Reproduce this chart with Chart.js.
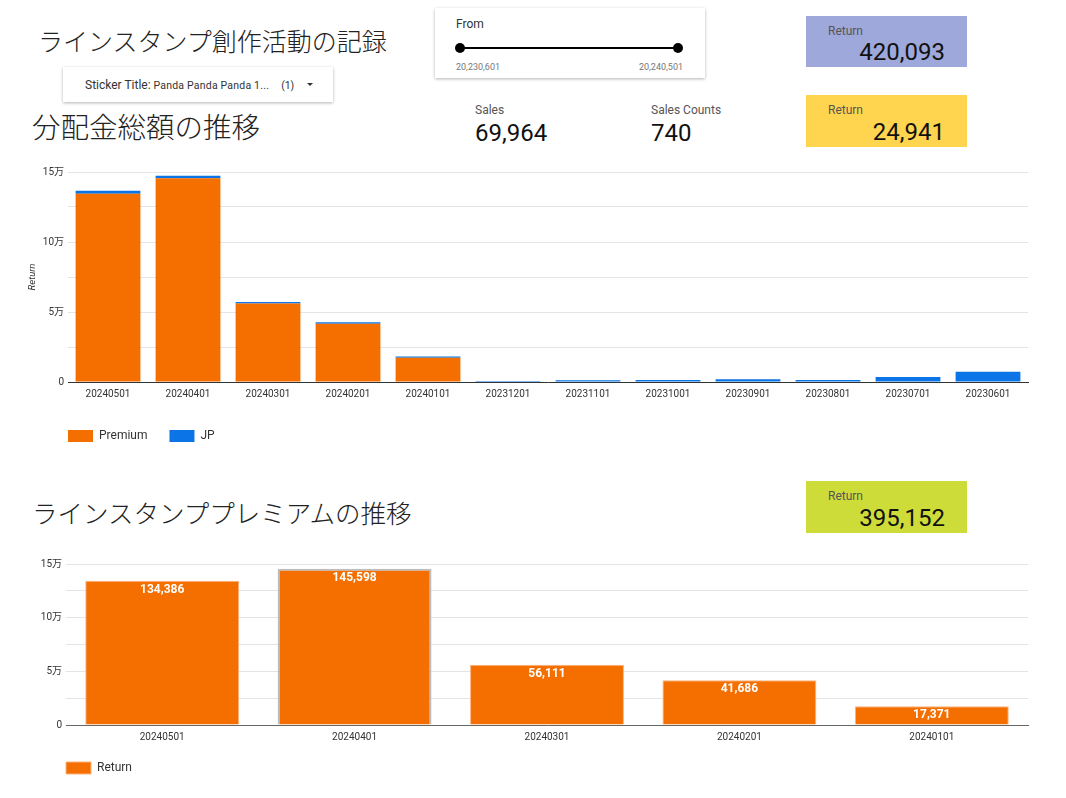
<!DOCTYPE html>
<html lang="ja">
<head>
<meta charset="utf-8">
<title>ラインスタンプ創作活動の記録</title>
<script src="https://cdn.jsdelivr.net/npm/chart.js@4.4.1/dist/chart.umd.min.js"></script>
<style>
  html, body { margin: 0; padding: 0; background: #fff; }
  body { width: 1066px; height: 798px; position: relative; overflow: hidden;
         font-family: Roboto, "Noto Sans CJK JP", sans-serif; color: #222; }
  .abs { position: absolute; }
  .title { font-family: "Noto Sans CJK JP", sans-serif; font-weight: 300; line-height: 1; color: #222; white-space: nowrap; }
  .card { background: #fff; box-shadow: 0 1px 3px rgba(0,0,0,0.3); }
  .kpi-label { font-size: 12px; color: #555; line-height: 1; }
  .kpi-value { font-size: 24px; color: #111; line-height: 1; }
  .box .kpi-value { position: absolute; right: 22px; bottom: 3px; }
  .box .kpi-label { position: absolute; left: 22px; top: 9px; }
  .chart { position: absolute; }
</style>
</head>
<body>

<div class="abs title" style="left:38px; top:28px; font-size:25px;">ラインスタンプ創作活動の記録</div>

<!-- フィルタ -->
<div class="abs card" style="left:63px; top:67px; width:270px; height:35px;">
  <div class="abs" style="left:22px; top:11px; font-size:12px; color:#333; white-space:nowrap;">
    Sticker Title: <span style="font-size:10.5px; letter-spacing:0.2px;">Panda Panda Panda 1...</span><span style="font-size:10.5px; margin-left:12px;">(1)</span>
  </div>
  <div class="abs" style="left:244px; top:16px; width:0; height:0; border-left:3px solid transparent; border-right:3px solid transparent; border-top:3px solid #333;"></div>
</div>

<!-- 期間スライダー -->
<div class="abs card" style="left:435px; top:8px; width:270px; height:70px;">
  <div class="abs" style="left:21px; top:9px; font-size:12px; color:#333;">From</div>
  <div class="abs" style="left:25px; top:39px; width:218px; height:2px; background:#000;"></div>
  <div class="abs" style="left:20px; top:35px; width:10px; height:10px; border-radius:50%; background:#000;"></div>
  <div class="abs" style="left:238px; top:35px; width:10px; height:10px; border-radius:50%; background:#000;"></div>
  <div class="abs" style="left:21px; top:54px; font-size:9px; color:#777;">20,230,601</div>
  <div class="abs" style="right:22px; top:54px; font-size:9px; color:#777;">20,240,501</div>
</div>

<div class="abs title" style="left:32px; top:112px; font-size:28.5px;">分配金総額の推移</div>

<div class="abs" style="left:475px; top:104px;">
  <div class="kpi-label">Sales</div>
  <div class="kpi-value" style="margin-top:5px;">69,964</div>
</div>
<div class="abs" style="left:651px; top:104px;">
  <div class="kpi-label">Sales Counts</div>
  <div class="kpi-value" style="margin-top:5px;">740</div>
</div>

<div class="abs box" style="left:806px; top:16px; width:161px; height:51px; background:#9fa8da;">
  <div class="kpi-label">Return</div><div class="kpi-value">420,093</div>
</div>
<div class="abs box" style="left:806px; top:95px; width:161px; height:52px; background:#ffd54f;">
  <div class="kpi-label">Return</div><div class="kpi-value">24,941</div>
</div>
<div class="abs box" style="left:806px; top:481px; width:161px; height:52px; background:#cddc39;">
  <div class="kpi-label">Return</div><div class="kpi-value">395,152</div>
</div>

<div class="abs title" style="left:32px; top:499px; font-size:25.5px;">ラインスタンププレミアムの推移</div>

<div class="chart" style="left:20px; top:162px; width:1015px; height:290px;"><canvas id="totalChart"></canvas></div>
<div class="chart" style="left:20px; top:554px; width:1015px; height:230px;"><canvas id="premiumChart"></canvas></div>

<script>
// 月ごとのカテゴリ
const months = ['20240501', '20240401', '20240301', '20240201', '20240101', '20231201',
                '20231101', '20231001', '20230901', '20230801', '20230701', '20230601'];
// 分配金 (プレミアム / JP)
const premiumValues = [134386, 145598, 56111, 41686, 17371, 0, 0, 0, 0, 0, 0, 0];
const jpValues = [2200, 1800, 1100, 1000, 900, 800, 1200, 1500, 2000, 1500, 3641, 7300];

// プレミアムの推移
const premiumMonths = ['20240501', '20240401', '20240301', '20240201', '20240101'];
const premiumReturn = [134386, 145598, 56111, 41686, 17371];

// 目盛り
const yTicks = [0, 50000, 100000, 150000];
const yTickLabels = ['0', '5万', '10万', '15万'];

const ORANGE = '#f46f00';
const BLUE = '#0b74e6';
const FONT = 'Roboto, "Noto Sans CJK JP", sans-serif';
const LEGEND_PAD = 22;

Chart.defaults.font.family = FONT;
Chart.defaults.color = '#333';
Chart.defaults.animation = false;

function yTickCallback(value) {
    const i = yTicks.indexOf(value);
    return i >= 0 ? yTickLabels[i] : '';
}

function yScale(width, withTitle) {
    return {
        stacked: true,
        min: 0,
        max: 150000,
        ticks: { stepSize: 25000, callback: yTickCallback, font: { size: 10 }, color: '#333', padding: 4 },
        grid: { color: '#e4e4e4', drawTicks: false, lineWidth: 1 },
        border: { display: false },
        title: withTitle ? { display: true, text: 'Return', font: { size: 9.5, style: 'italic' }, color: '#333', padding: { top: 7, bottom: 0 } } : { display: false },
        afterFit: scale => { scale.width = width; }
    };
}

function xScale(height, borderColor) {
    return {
        stacked: true,
        grid: { display: false, drawTicks: false },
        border: { display: true, color: borderColor, width: 1 },
        ticks: { font: { size: 10 }, color: '#333', padding: 6, maxRotation: 0, autoSkip: false },
        afterFit: scale => { scale.height = height; }
    };
}

const legendOpts = {
    position: 'bottom',
    align: 'start',
    fullSize: false,
    labels: { boxWidth: 25, boxHeight: 12, font: { size: 12 }, color: '#333', padding: LEGEND_PAD }
};

// 凡例をプロットの左端に揃える
const legendShift = {
    id: 'legendShift',
    afterLayout(chart) {
        chart.legend.left -= LEGEND_PAD;
        chart.legend.right -= LEGEND_PAD;
    }
};

// 棒の中にラベルを描く
const barLabels = {
    id: 'barLabels',
    afterDatasetsDraw(chart) {
        const ctx = chart.ctx;
        const meta = chart.getDatasetMeta(0);
        ctx.save();
        ctx.fillStyle = '#fff';
        ctx.font = 'bold 12px ' + FONT;
        ctx.textAlign = 'center';
        ctx.textBaseline = 'middle';
        meta.data.forEach((bar, i) => {
            const v = chart.data.datasets[0].data[i];
            ctx.fillText(v.toLocaleString('en-US'), bar.x, bar.y + 9);
        });
        ctx.restore();
    }
};

new Chart(document.getElementById('totalChart'), {
    type: 'bar',
    data: {
        labels: months,
        datasets: [
            { label: 'Premium', data: premiumValues, backgroundColor: ORANGE, borderWidth: 0 },
            { label: 'JP', data: jpValues, backgroundColor: BLUE, borderWidth: 0 }
        ]
    },
    options: {
        responsive: true,
        maintainAspectRatio: false,
        layout: { padding: { top: 10, right: 7, bottom: 0, left: 0 } },
        datasets: { bar: { barPercentage: 0.81, categoryPercentage: 1.0 } },
        scales: { x: xScale(26, '#333'), y: yScale(48, true) },
        plugins: { legend: legendOpts, tooltip: { enabled: false } }
    },
    plugins: [legendShift]
});

new Chart(document.getElementById('premiumChart'), {
    type: 'bar',
    data: {
        labels: premiumMonths,
        datasets: [{
            label: 'Return',
            data: premiumReturn,
            backgroundColor: ORANGE,
            borderColor: ['#ffb27d', '#bdbdbd', '#ffb27d', '#ffb27d', '#ffb27d'],
            borderWidth: [1, 2, 1, 1, 1],
            borderSkipped: 'bottom'
        }]
    },
    options: {
        responsive: true,
        maintainAspectRatio: false,
        layout: { padding: { top: 10, right: 7, bottom: 0, left: 0 } },
        datasets: { bar: { barPercentage: 0.8, categoryPercentage: 1.0 } },
        scales: { x: xScale(15, '#666'), y: yScale(46, false) },
        plugins: { legend: legendOpts, tooltip: { enabled: false } }
    },
    plugins: [barLabels, legendShift]
});
</script>
</body>
</html>
